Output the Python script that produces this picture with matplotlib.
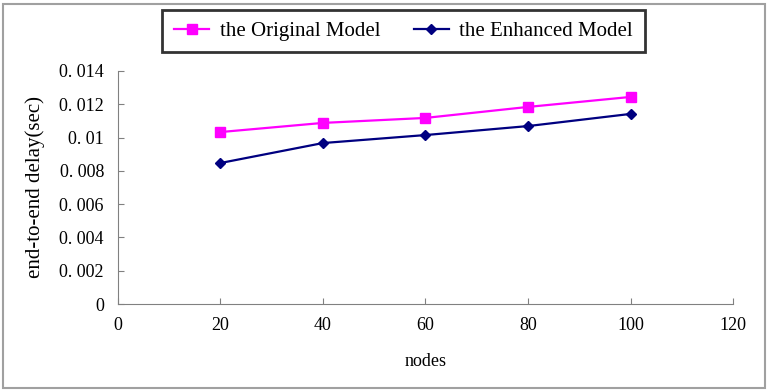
import matplotlib.pyplot as plt
from matplotlib.patches import Rectangle

nodes = [20, 40, 60, 80, 100]
original = [0.01033, 0.01088, 0.01118, 0.01184, 0.01244]
enhanced = [0.00847, 0.00967, 0.01015, 0.01069, 0.01142]
yticks = [0, 0.002, 0.004, 0.006, 0.008, 0.01, 0.012, 0.014]
ylabels = ['0', '0. 002', '0. 004', '0. 006', '0. 008', '0. 01', '0. 012', '0. 014']
xticks = [0, 20, 40, 60, 80, 100, 120]

plt.rcParams['font.family'] = ['Liberation Serif', 'DejaVu Serif']

fig = plt.figure(figsize=(7.7, 3.9), dpi=100)
ax = fig.add_axes([0.153, 0.2205, 0.799, 0.5975])

ax.plot(nodes, original, color='#FF00FF', marker='s', markersize=7, lw=1.6,
        label='the Original Model')
ax.plot(nodes, enhanced, color='#000080', marker='D', markersize=5.5, lw=1.6,
        label='the Enhanced Model')

ax.set_xlim(0, 120)
ax.set_ylim(0, 0.014)
ax.set_xticks(xticks)
ax.set_yticks(yticks)
ax.set_yticklabels(ylabels)
ax.tick_params(direction='in', length=4, color='#808080', labelsize=13)
ax.tick_params(axis='y', pad=10)
ax.tick_params(axis='x', pad=9)
for s in ['top', 'right']:
    ax.spines[s].set_visible(False)
for s in ['left', 'bottom']:
    ax.spines[s].set_color('#808080')
ax.set_xlabel('nodes', fontsize=13, labelpad=14)
ax.set_ylabel('end-to-end delay(sec)', fontsize=15, labelpad=10)

leg = fig.legend(loc='center', bbox_to_anchor=(0.524, 0.92), ncol=2, fontsize=15,
                 frameon=True, fancybox=False, columnspacing=1.6, handlelength=1.7,
                 handletextpad=0.5, borderpad=0.55, borderaxespad=0)
leg.get_frame().set_edgecolor('black')
leg.get_frame().set_linewidth(2)

fig.patches.append(Rectangle((0.004, 0.006), 0.99, 0.985, transform=fig.transFigure,
                             fill=False, edgecolor='#A0A0A0', lw=1.5))

fig.savefig('out.png', dpi=100)
